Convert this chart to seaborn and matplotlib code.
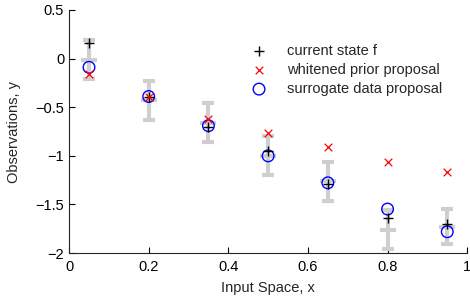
import matplotlib
matplotlib.use("Agg")
import matplotlib.pyplot as plt
import numpy as np
import pandas as pd
import seaborn as sns

x = [0.05, 0.2, 0.35, 0.5, 0.65, 0.8, 0.95]
current = [0.16, -0.40, -0.70, -0.95, -1.29, -1.64, -1.705]
whitened = [-0.16, -0.40, -0.62, -0.77, -0.906, -1.067, -1.17]
surrogate = [-0.09, -0.39, -0.69, -1.0, -1.277, -1.547, -1.78]
obs_mean = [-0.01, -0.43, -0.66, -1.0, -1.26, -1.76, -1.73]
obs_err = [0.2, 0.2, 0.2, 0.2, 0.2, 0.2, 0.18]

sns.set_style("ticks")
plt.rcParams['font.family'] = ['Liberation Sans', 'DejaVu Sans']
plt.rcParams['font.size'] = 10
plt.rcParams['xtick.direction'] = 'in'
plt.rcParams['ytick.direction'] = 'in'

fig = plt.figure(figsize=(4.7, 3.01), dpi=100)
ax = fig.add_axes([0.147, 0.159, 0.847, 0.808])

gray = '#cfcfcf'
ax.errorbar(x, obs_mean, yerr=obs_err, fmt='_', color=gray, ecolor=gray,
            elinewidth=3, capsize=4, capthick=3, markersize=12,
            markeredgewidth=3, zorder=1)

df = pd.DataFrame({"x": x, "current": current, "whitened": whitened,
                   "surrogate": surrogate})

sns.scatterplot(data=df, x="x", y="current", marker='+', color='black',
                s=55, linewidth=1, label='current state f', ax=ax, zorder=3)
sns.scatterplot(data=df, x="x", y="whitened", marker='x', color='red',
                s=30, linewidth=0.9, label='whitened prior proposal', ax=ax,
                zorder=3)
sns.scatterplot(data=df, x="x", y="surrogate", marker='o', s=70,
                facecolor='none', edgecolor='blue', linewidth=1,
                label='surrogate data proposal', ax=ax, zorder=2)

ax.set_xlim(0, 1)
ax.set_ylim(-2, 0.5)
ax.set_xticks(np.arange(0, 1.01, 0.2))
ax.set_xticklabels(['0', '0.2', '0.4', '0.6', '0.8', '1'])
ax.set_yticks([-2, -1.5, -1, -0.5, 0, 0.5])
ax.set_yticklabels(['\u22122', '\u22121.5', '\u22121', '\u22120.5', '0', '0.5'])
ax.tick_params(length=4, width=0.8, labelsize=10.5, colors='black')
ax.tick_params(axis='x', pad=5)
ax.set_xlabel('Input Space, x', fontsize=10.5, labelpad=5)
ax.set_ylabel('Observations, y', fontsize=10.5, labelpad=10)
sns.despine(ax=ax)

ax.legend(frameon=False, loc='upper left', bbox_to_anchor=(0.435, 0.885),
          fontsize=10.5, handlelength=1.5, handletextpad=1.2,
          labelspacing=0.35, borderaxespad=0)

fig.savefig("out.png", dpi=100)
